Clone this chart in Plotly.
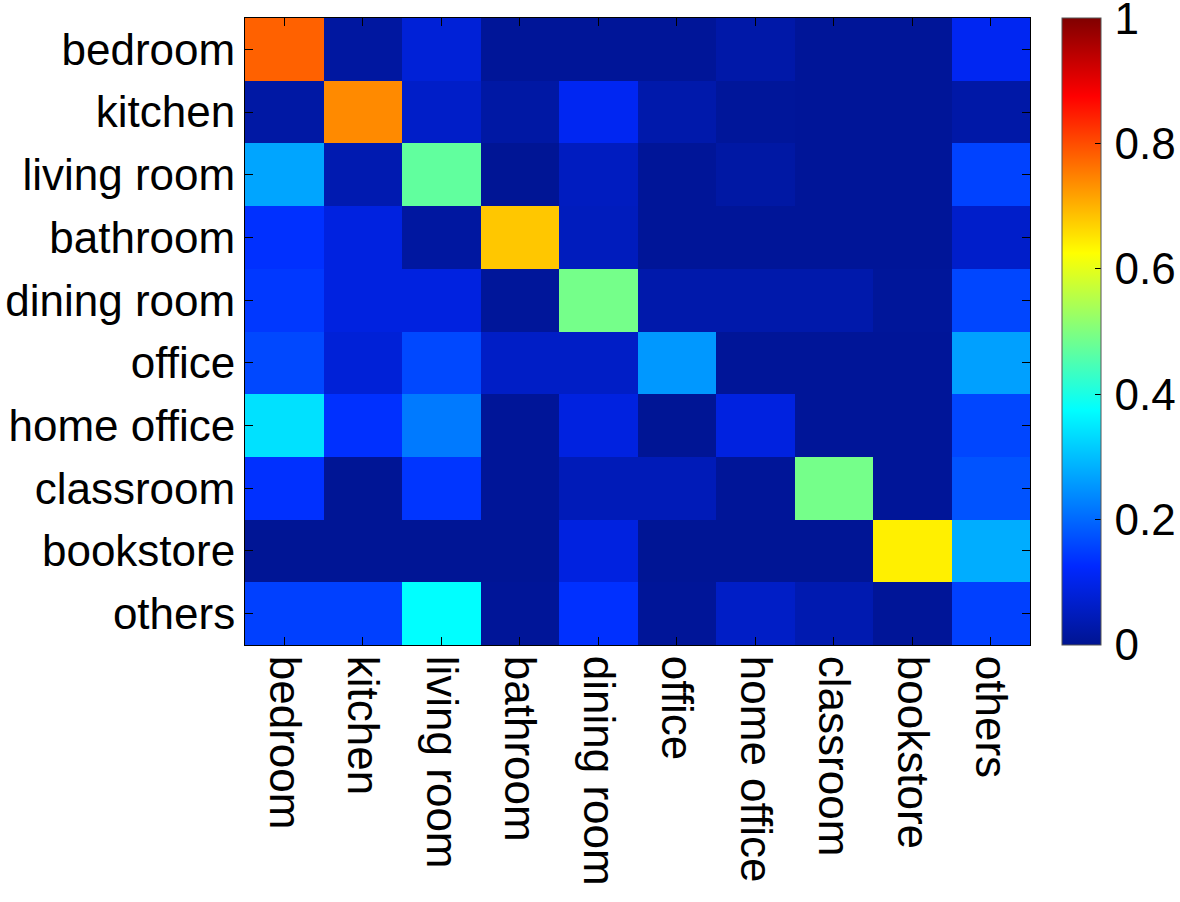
import plotly.graph_objects as go

categories = ["bedroom", "kitchen", "living room", "bathroom", "dining room",
              "office", "home office", "classroom", "bookstore", "others"]

row_bedroom     = [0.78, 0.017, 0.08, 0.008, 0.008, 0.008, 0.026, 0.008, 0.008, 0.11]
row_kitchen     = [0.022, 0.74, 0.062, 0.022, 0.11, 0.03, 0.01, 0.008, 0.008, 0.025]
row_living      = [0.27, 0.035, 0.47, 0.005, 0.053, 0.008, 0.022, 0.008, 0.008, 0.155]
row_bathroom    = [0.134, 0.09, 0.017, 0.68, 0.05, 0.008, 0.008, 0.008, 0.008, 0.065]
row_dining      = [0.144, 0.09, 0.09, 0.01, 0.49, 0.03, 0.03, 0.03, 0.01, 0.16]
row_office      = [0.162, 0.08, 0.162, 0.06, 0.06, 0.255, 0.008, 0.008, 0.008, 0.265]
row_home_office = [0.34, 0.134, 0.22, 0.008, 0.09, 0.005, 0.09, 0.008, 0.008, 0.16]
row_classroom   = [0.134, 0.005, 0.14, 0.008, 0.044, 0.044, 0.008, 0.49, 0.008, 0.175]
row_bookstore   = [0.005, 0.005, 0.005, 0.005, 0.09, 0.005, 0.005, 0.005, 0.64, 0.28]
row_others      = [0.153, 0.153, 0.375, 0.008, 0.134, 0.008, 0.06, 0.035, 0.008, 0.153]

z = [row_bedroom, row_kitchen, row_living, row_bathroom, row_dining,
     row_office, row_home_office, row_classroom, row_bookstore, row_others]

colorbar_ticks = [0, 0.2, 0.4, 0.6, 0.8, 1.0]
colorbar_ticktext = ["\u200a0", "\u200a0.2", "\u200a0.4", "\u200a0.6", "\u200a0.8", "\u200a1"]

jet = [
    [0.0, "rgb(0,20,145)"],
    [0.125, "rgb(0,40,255)"],
    [0.375, "rgb(0,255,255)"],
    [0.625, "rgb(255,255,0)"],
    [0.875, "rgb(255,0,0)"],
    [1.0, "rgb(128,0,0)"],
]

FONT = "Liberation Sans, Arial, Helvetica, sans-serif"
FS = 44

fig = go.Figure(go.Heatmap(
    z=z, x=categories, y=categories,
    colorscale=jet, zmin=0, zmax=1.0005,
    colorbar=dict(
        x=(1062 - 245) / 785, xanchor="left", xref="paper",
        y=0.5, yanchor="middle", len=1.0, lenmode="fraction",
        thickness=39, thicknessmode="pixels",
        outlinecolor="#555555", outlinewidth=1,
        tickvals=colorbar_ticks, ticktext=colorbar_ticktext,
        ticks="inside", ticklen=6, tickcolor="black",
        tickfont=dict(family=FONT, size=FS, color="black"),
        ticklabeloverflow="allow",
        ypad=0, xpad=0,
    ),
))

fig.update_layout(
    width=1180, height=902,
    margin=dict(l=245, r=150, t=18, b=257, autoexpand=False),
    paper_bgcolor="white", plot_bgcolor="white",
    font=dict(family=FONT, size=FS, color="black"),
)
fig.update_xaxes(
    tickangle=90, ticks="inside", ticklen=8, tickcolor="black",
    showline=True, linecolor="black", linewidth=1, mirror="allticks",
    tickfont=dict(family=FONT, size=FS, color="black"),
    showgrid=False, zeroline=False, ticklabelstandoff=1, automargin=False,
)
fig.update_yaxes(
    autorange="reversed", ticks="inside", ticklen=8, tickcolor="black",
    showline=True, linecolor="black", linewidth=1, mirror="allticks",
    tickfont=dict(family=FONT, size=FS, color="black"),
    showgrid=False, zeroline=False, ticklabelstandoff=0, automargin=False,
)

fig.write_html(
    "out.html",
    config={"displayModeBar": False},
    post_script="document.body.style.margin='0';document.body.style.padding='0';"
                "document.body.style.overflow='hidden';",
)
